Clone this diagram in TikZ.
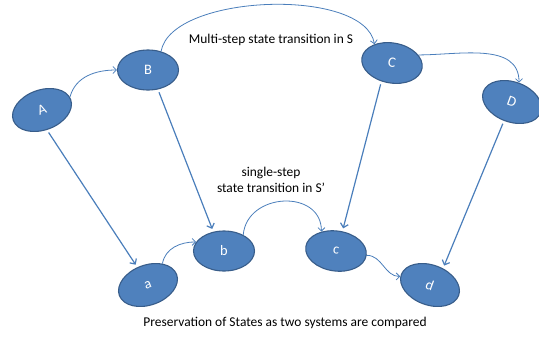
\documentclass[tikz,border=0pt]{standalone}
\usepackage{fontspec}
\setmainfont{Carlito}
\usetikzlibrary{shapes.geometric,arrows.meta}
\definecolor{statefill}{HTML}{4F81BD}
\definecolor{stateline}{HTML}{385D8A}
\definecolor{arrowblue}{HTML}{4A7EBB}
\tikzset{
  state/.style={ellipse, fill=statefill, draw=stateline, line width=1.1pt,
    minimum width=61bp, minimum height=40bp, inner sep=0pt,
    text=white, font=\fontsize{14.5}{16}\selectfont},
  trans/.style={arrowblue, line width=0.8pt, -{Straight Barb[length=3.5pt,width=7pt]}},
  map/.style={arrowblue, line width=1.2pt, -{Straight Barb[length=4pt,width=8pt]}, shorten <=3pt, shorten >=3pt},
  lbl/.style={font=\fontsize{13.5}{16}\selectfont, align=center}
}
\begin{document}
\begin{tikzpicture}[x=1bp,y=1bp]
            \useasboundingbox (0,0) rectangle (539,346);
            % states of S
            \node[state, rotate=20] (A) at (42,236) {A};
            \node[state] (B) at (148,276) {B};
            \node[state, rotate=-10] (C) at (392,283) {C};
            \node[state, rotate=-20] (D) at (512,244) {D};
            % states of S'
            \node[state, rotate=20] (a) at (148,61) {a};
            \node[state] (b) at (224,95) {b};
            \node[state, rotate=-8] (c) at (336,95) {c};
            \node[state, rotate=-20] (d) at (430,61) {d};
            % labels
            \node[lbl] (multi) at (271,306) {Multi-step state transition in S};
            \node[lbl] (single) at (271,166) {single-step\\state transition in S’};
            \node[lbl] (caption) at (285,23) {Preservation of States as two systems are compared};
            % transitions in S
            \draw[trans] (A.5) to[out=75,in=180] (B.west);
            \draw[trans] (B.55) to[out=80,in=100,looseness=0.7] (C.143);
            \draw[trans] (C.27) to[out=0,in=90] (D.90);
            % transitions in S'
            \draw[trans] (a.36) to[out=80,in=180] (b.162);
            \draw[trans] (b.40) to[out=85,in=90,looseness=1.4] (c.135);
            \draw[trans] (c.east) to[out=0,in=180] (d.184);
            % mapping S to S'
            \draw[map] (A.-96) -- (a.101);
            \draw[map] (B.-63) -- (b.119);
            \draw[map] (C.-110) -- (c.80);
            \draw[map] (D.-93) -- (d.72);
        \end{tikzpicture}
\end{document}
